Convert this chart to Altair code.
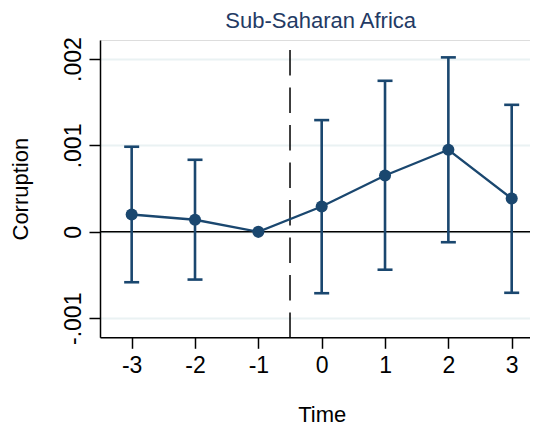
import altair as alt
import pandas as pd

# ---- data ----
times = [-3, -2, -1, 0, 1, 2, 3]
coef = [0.000201, 0.000140, 0.0, 0.000293, 0.000653, 0.000950, 0.000385]
ci_low = [-0.000583, -0.000552, None, -0.000710, -0.000438, -0.000120, -0.000705]
ci_high = [0.000985, 0.000834, None, 0.001293, 0.001748, 0.002019, 0.001470]

x_ticks = [-3, -2, -1, 0, 1, 2, 3]
x_labels = ["-3", "-2", "-1", "0", "1", "2", "3"]
y_ticks = [-0.001, 0.0, 0.001, 0.002]
y_labels = ["-.001", "0", ".001", ".002"]

event_line = [-0.5]
zero_line = [0.0]

title_text = ["Sub-Saharan Africa"]
x_title = "Time"
y_title = "Corruption"

# ---- styling ----
NAVY = "#1a476f"
TITLE_COLOR = "#233a64"
GRID = "#eaf2f3"
FONT = "Liberation Sans, Arial, Helvetica, sans-serif"
W = 430
H = 297.3
X_MAX = 3.289
LABEL_FS = 23
TITLE_FS = 22
X0 = W * 3.5 / (3.5 + X_MAX)  # pixel position of time 0 inside the view

df = pd.DataFrame({"time": times, "coef": coef})
ci = pd.DataFrame({"time": times, "lo": ci_low, "hi": ci_high}).dropna()

x_label_expr = "[{}][indexof([{}], datum.value)]".format(
    ",".join("'%s'" % s for s in x_labels), ",".join(str(v) for v in x_ticks)
)
y_label_expr = "[{}][indexof([{}], round(datum.value*1000))]".format(
    ",".join("'%s'" % s for s in y_labels),
    ",".join(str(int(round(v * 1000))) for v in y_ticks),
)

xs = alt.Scale(domain=[-3.5, X_MAX], nice=False, zero=False)
ys = alt.Scale(domain=[-0.00122, 0.00222], nice=False, zero=False)

x_axis = alt.Axis(
    values=x_ticks, labelExpr=x_label_expr, title=x_title,
    titleX=X0, titleY=83.7, titleAlign="center", titleBaseline="alphabetic",
    titleFontSize=TITLE_FS, titleFont=FONT, titleFontWeight="normal", titleColor="black",
    labelFontSize=LABEL_FS, labelFont=FONT, labelColor="black",
    labelAlign="center", labelBaseline="alphabetic", labelPadding=24,
    labelFlush=False, labelOverlap=False,
    tickSize=11, tickWidth=1.5, tickColor="black",
    domainColor="black", domainWidth=1.5, grid=False,
)
y_axis = alt.Axis(
    values=y_ticks, labelExpr=y_label_expr, title=y_title,
    titleX=-72.5, titleY=H / 2, titleAngle=270, titleAlign="center",
    titleBaseline="alphabetic",
    titleFontSize=TITLE_FS, titleFont=FONT, titleFontWeight="normal", titleColor="black",
    labelFontSize=LABEL_FS, labelFont=FONT, labelColor="black",
    labelAngle=270, labelAlign="center", labelBaseline="alphabetic", labelPadding=8.3,
    labelFlush=False, labelOverlap=False,
    tickSize=11, tickWidth=1.5, tickColor="black",
    domainColor="black", domainWidth=1.5,
    grid=True, gridColor=GRID, gridWidth=2,
)

X = lambda f: alt.X(f, scale=xs, axis=x_axis)
Y = lambda f: alt.Y(f, scale=ys, axis=y_axis)

zero = alt.Chart(pd.DataFrame({"z": zero_line})).mark_rule(
    color="black", strokeWidth=1.5
).encode(y=Y("z:Q"))

dashed = alt.Chart(pd.DataFrame({"t": event_line})).mark_rule(
    color="black", strokeWidth=1.5, strokeDash=[25.5, 12], strokeDashOffset=27.5
).encode(x=X("t:Q"), y=alt.value(0), y2=alt.value(H))

bars = alt.Chart(ci).mark_rule(color=NAVY, strokeWidth=2.6).encode(
    x=X("time:Q"), y=Y("lo:Q"), y2="hi:Q"
)
caps_lo = alt.Chart(ci).mark_tick(
    color=NAVY, orient="horizontal", size=15, thickness=2.6, opacity=1
).encode(x=X("time:Q"), y=Y("lo:Q"))
caps_hi = alt.Chart(ci).mark_tick(
    color=NAVY, orient="horizontal", size=15, thickness=2.6, opacity=1
).encode(x=X("time:Q"), y=Y("hi:Q"))

line = alt.Chart(df).mark_line(color=NAVY, strokeWidth=2.3).encode(
    x=X("time:Q"), y=Y("coef:Q")
)
pts = alt.Chart(df).mark_circle(color=NAVY, size=145, opacity=1).encode(
    x=X("time:Q"), y=Y("coef:Q")
)

title = alt.Chart(pd.DataFrame({"t": title_text})).mark_text(
    font=FONT, fontSize=TITLE_FS, color=TITLE_COLOR, align="center",
    baseline="alphabetic",
).encode(text="t:N", x=alt.value(X0 - 1), y=alt.value(-12))

chart = (
    alt.layer(zero, dashed, bars, caps_lo, caps_hi, line, pts, title)
    .properties(
        width=W,
        height=H,
        padding={"left": 92, "top": 32, "right": 0, "bottom": 89.7},
        autosize=alt.AutoSizeParams(type="none"),
    )
    .configure_view(strokeWidth=0)
    .configure(background="white")
)

chart.save("out.html", embed_options={"renderer": "svg", "actions": False})
